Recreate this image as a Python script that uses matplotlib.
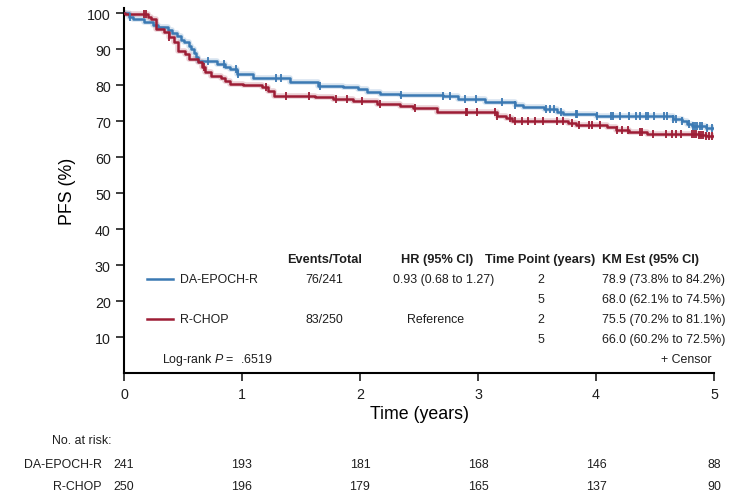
import numpy as np
import matplotlib
matplotlib.use("Agg")
import matplotlib.pyplot as plt
from matplotlib.transforms import blended_transform_factory

plt.rcParams['font.family'] = ['Liberation Sans', 'DejaVu Sans']
plt.rcParams['mathtext.fontset'] = 'custom'
plt.rcParams['mathtext.it'] = 'Liberation Sans:italic'
plt.rcParams['mathtext.rm'] = 'Liberation Sans'
plt.rcParams['text.color'] = '#1e1e1e'

# ---------------------------------------------------------------
# Datos (curvas de Kaplan-Meier, escalón)
# ---------------------------------------------------------------
blue_t = [0, 0.04, 0.08, 0.17, 0.245, 0.29, 0.37, 0.41, 0.45, 0.48, 0.51, 0.55, 0.57,
          0.59, 0.61, 0.625, 0.79, 0.86, 0.895, 0.955, 1.09, 1.41, 1.64, 1.86, 1.98,
          2.06, 2.17, 2.34, 2.70, 2.83, 3.06, 3.31, 3.38, 3.56, 3.67, 3.72, 4.00,
          4.65, 4.73, 4.77, 4.81, 4.93, 5.0]
blue_s = [100, 99.0, 98.3, 97.4, 96.7, 96.0, 95.4, 94.5, 93.5, 92.5, 91.9, 90.9, 90.0,
          88.8, 87.7, 86.8, 85.8, 85.0, 84.4, 83.0, 82.0, 80.7, 79.8, 79.4, 78.9,
          78.1, 77.5, 77.2, 76.9, 76.1, 75.2, 74.4, 73.8, 73.3, 72.6, 71.9, 71.3,
          70.6, 69.9, 69.2, 68.7, 68.0, 68.0]
blue_cens = [0.05, 0.71, 0.845, 0.95, 0.97, 1.29, 1.33, 1.66, 2.35, 2.70, 2.76, 2.89,
             2.98, 3.20, 3.31, 3.58, 3.61, 3.64, 3.70, 3.83, 3.84, 4.01, 4.13, 4.14,
             4.20, 4.28, 4.34, 4.37, 4.42, 4.44, 4.49, 4.58, 4.60, 4.65, 4.68, 4.73,
             4.79, 4.82, 4.84, 4.86, 4.88, 4.90, 4.94, 4.98]

red_t = [0, 0.01, 0.20, 0.23, 0.27, 0.34, 0.38, 0.42, 0.46, 0.52, 0.55, 0.625, 0.665,
         0.69, 0.735, 0.82, 0.86, 0.90, 1.01, 1.17, 1.22, 1.27, 1.62, 1.77, 1.94,
         2.14, 2.34, 2.45, 2.65, 3.16, 3.24, 3.29, 3.76, 3.83, 4.09, 4.17, 4.28,
         4.43, 4.87, 4.93, 5.0]
red_s = [100, 99.7, 99.0, 98.3, 95.6, 94.8, 93.2, 91.9, 89.5, 88.6, 87.2, 86.3, 84.9,
         83.5, 82.6, 82.0, 81.2, 80.3, 80.0, 79.4, 78.4, 77.0, 76.6, 76.1, 75.5,
         74.7, 74.1, 73.5, 72.4, 71.5, 70.7, 70.1, 69.4, 68.9, 68.2, 67.6, 67.0,
         66.5, 66.1, 65.8, 65.8]
red_cens = [0.17, 0.19, 0.38, 0.68, 1.20, 1.37, 1.57, 1.80, 1.89, 2.02, 2.17, 2.47,
            2.90, 2.91, 2.99, 3.14, 3.16, 3.27, 3.31, 3.37, 3.42, 3.48, 3.55, 3.67,
            3.72, 3.80, 3.86, 3.94, 3.97, 4.03, 4.18, 4.22, 4.27, 4.37, 4.39, 4.48,
            4.59, 4.64, 4.68, 4.72, 4.81, 4.83, 4.85, 4.87, 4.89, 4.91, 4.93, 4.96, 4.98]

groups = ["DA-EPOCH-R", "R-CHOP"]
events = ["76/241", "83/250"]
hr = ["0.93 (0.68 to 1.27)", "Reference"]
time_points = ["2", "5", "2", "5"]
km_est = ["78.9 (73.8% to 84.2%)", "68.0 (62.1% to 74.5%)",
          "75.5 (70.2% to 81.1%)", "66.0 (60.2% to 72.5%)"]
risk_times = [0, 1, 2, 3, 4, 5]
risk_blue = [241, 193, 181, 168, 146, 88]
risk_red = [250, 196, 179, 165, 137, 90]

BLUE = "#3b79b3"
RED = "#9d1d35"


def s_at(times, surv, tc):
    idx = np.searchsorted(times, tc, side="right") - 1
    return np.array(surv)[idx]


fig = plt.figure(figsize=(7.3, 5.02), dpi=100)
ax = fig.add_axes([124 / 730, 1 - 374 / 502, 590 / 730, 365.4 / 502])

for t, s, c, col in [(blue_t, blue_s, blue_cens, BLUE), (red_t, red_s, red_cens, RED)]:
    ax.step(t, s, where="post", color=col, lw=4, alpha=0.2, zorder=2)
    ax.step(t, s, where="post", color=col, lw=1.8, zorder=3)
    ax.plot(c, s_at(t, s, c), ls="none", marker="|", ms=6, mew=1.3, color=col, zorder=4)

ax.set_xlim(0, 5)
ax.set_ylim(0, 101.5)
ax.set_yticks(range(10, 101, 10))
ax.set_xticks(range(0, 6))
ax.spines[["top", "right"]].set_visible(False)
for sp in ["left", "bottom"]:
    ax.spines[sp].set_linewidth(1.5)
ax.tick_params(direction="out", length=6, width=1.2, labelsize=10.3,
               colors="#1e1e1e")
ax.tick_params(axis="x", pad=4)
ax.set_ylabel("PFS (%)", fontsize=12.8, labelpad=8)
ax.set_xlabel("Time (years)", fontsize=12.8, labelpad=3)

# Tabla dentro del gráfico
fs = 8.9
hfs = 9.2
ax.text(1.70, 31.7, "Events/Total", fontsize=hfs, weight="bold", ha="center", va="center")
ax.text(2.65, 31.7, "HR (95% CI)", fontsize=hfs, weight="bold", ha="center", va="center")
ax.text(3.53, 31.7, "Time Point (years)", fontsize=hfs, weight="bold", ha="center", va="center")
ax.text(4.05, 31.7, "KM Est (95% CI)", fontsize=hfs, weight="bold", ha="left", va="center")

row_y = [26.1, 20.6, 15.0, 9.4]
for i, (g, col) in enumerate(zip(groups, [BLUE, RED])):
    y = row_y[2 * i]
    ax.plot([0.195, 0.415], [y, y], color=col, lw=1.8, clip_on=False)
    ax.text(0.475, y, g, fontsize=fs, ha="left", va="center")
    ax.text(1.70, y, events[i], fontsize=fs, ha="center", va="center")
    ax.text(2.71 if i == 0 else 2.64, y, hr[i], fontsize=fs, ha="center", va="center")
for y, tp, km in zip(row_y, time_points, km_est):
    ax.text(3.53, y, tp, fontsize=fs, ha="center", va="center")
    ax.text(4.05, y, km, fontsize=fs, ha="left", va="center")

ax.text(0.32, 3.9, "Log-rank $\\it{P}$ =  .6519", fontsize=fs, ha="left", va="center")
ax.text(4.98, 3.9, "+ Censor", fontsize=fs, ha="right", va="center")

# Número en riesgo
tr = blended_transform_factory(ax.transData, fig.transFigure)
fig.text(112 / 730, 1 - 441 / 502, "No. at risk:", fontsize=fs, ha="right", va="center")
fig.text(102 / 730, 1 - 465 / 502, groups[0], fontsize=fs, ha="right", va="center")
fig.text(102 / 730, 1 - 487 / 502, groups[1], fontsize=fs, ha="right", va="center")
for t, b, r in zip(risk_times, risk_blue, risk_red):
    fig.text(t, 1 - 465 / 502, str(b), fontsize=fs, ha="center", va="center", transform=tr)
    fig.text(t, 1 - 487 / 502, str(r), fontsize=fs, ha="center", va="center", transform=tr)

fig.savefig("out.png", dpi=100)
